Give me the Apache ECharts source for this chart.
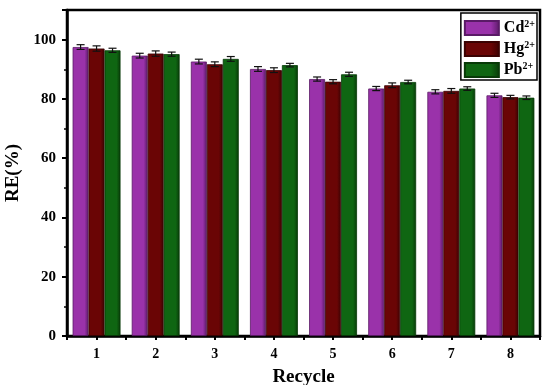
<!DOCTYPE html>
<html><head><meta charset="utf-8">
<script src="https://cdn.jsdelivr.net/npm/echarts@6/dist/echarts.min.js"></script>
<style>html,body{margin:0;padding:0;background:#fff}#c{width:550px;height:385px}</style>
</head><body><div id="c"></div>
<script>
var categories = ['1','2','3','4','5','6','7','8'];
var seriesNames = ['Cd', 'Hg', 'Pb'];
var cdValues = [97.5, 94.6, 92.6, 90.1, 86.7, 83.5, 82.4, 81.2];
var hgValues = [97.0, 95.3, 91.7, 89.7, 85.8, 84.6, 82.7, 80.6];
var pbValues = [96.4, 95.1, 93.5, 91.4, 88.3, 85.7, 83.5, 80.4];
var cdErrors = [0.8, 0.8, 0.8, 0.8, 0.7, 0.7, 0.7, 0.7];
var hgErrors = [0.9, 0.9, 0.8, 0.8, 0.7, 0.8, 0.8, 0.6];
var pbErrors = [0.7, 0.7, 0.8, 0.6, 0.7, 0.6, 0.6, 0.6];
var yTicks = [0, 20, 40, 60, 80, 100];

var colors = ['#9a32aa', '#6a0505', '#0f6612'];
var borders = ['#5a1a66', '#3a0202', '#083a08'];
var values = [cdValues, hgValues, pbValues];
var errors = [cdErrors, hgErrors, pbErrors];
var CAT_GAP = 0.19;
var FONT = 'Liberation Serif';

var chart = echarts.init(document.getElementById('c'));
var series = [];
seriesNames.forEach(function (nm, si) {
  series.push({
    name: nm, type: 'bar', data: values[si], barGap: '0%', barCategoryGap: (CAT_GAP * 100) + '%',
    itemStyle: {
      color: new echarts.graphic.LinearGradient(0, 0, 1, 0, [
        {offset: 0, color: colors[si]}, {offset: 0.75, color: colors[si]}, {offset: 1, color: borders[si]}]),
      borderColor: borders[si], borderWidth: 0.8
    },
    z: 2
  });
});
seriesNames.forEach(function (nm, si) {
  series.push({
    type: 'custom', name: nm + '_err', silent: true, z: 5,
    data: values[si].map(function (v, i) { return [i, v, errors[si][i]]; }),
    renderItem: function (params, api) {
      var cw = api.size([1, 0])[0];
      var bw = cw * (1 - CAT_GAP) / 3;
      var off = (si - 1) * bw;
      var c = api.coord([api.value(0), api.value(1)]);
      var x = c[0] + off;
      var hi = api.coord([api.value(0), api.value(1) + api.value(2)])[1];
      var lo = api.coord([api.value(0), api.value(1) - api.value(2)])[1];
      var hw = 4;
      var st = {stroke: '#111', lineWidth: 1.2};
      return {type: 'group', children: [
        {type: 'line', shape: {x1: x, y1: hi, x2: x, y2: lo}, style: st},
        {type: 'line', shape: {x1: x - hw, y1: hi, x2: x + hw, y2: hi}, style: st},
        {type: 'line', shape: {x1: x - hw, y1: lo, x2: x + hw, y2: lo}, style: st}
      ]};
    }
  });
});

var sup = {Cd: 'Cd', Hg: 'Hg', Pb: 'Pb'};
chart.setOption({
  animation: false,
  textStyle: {fontFamily: FONT},
  grid: {left: 67, right: 10, top: 10, bottom: 49, show: true, borderColor: '#000', borderWidth: 2.5,
    backgroundColor: 'transparent', containLabel: false, outerBoundsMode: 'none'},
  legend: {
    data: seriesNames, right: 13, top: 13, orient: 'vertical', icon: 'rect',
    itemWidth: 34, itemHeight: 14, itemGap: 4,
    borderColor: '#000', borderWidth: 1.5, padding: [6, 2, 2, 3], borderRadius: 0,
    formatter: function (n) { return '{b|' + sup[n] + '}{s|2+}'; },
    textStyle: {rich: {
      b: {fontFamily: FONT, fontWeight: 'bold', fontSize: 16, color: '#000'},
      s: {fontFamily: FONT, fontWeight: 'bold', fontSize: 10, color: '#000', verticalAlign: 'top', padding: [0, 0, 8, 0]}
    }}
  },
  xAxis: [{
    type: 'category', data: categories,
    axisLine: {lineStyle: {color: '#000', width: 2.5}},
    axisTick: {show: true, inside: false, length: 4, lineStyle: {color: '#000', width: 2}},
    axisLabel: {show: false},
    name: 'Recycle', nameLocation: 'middle', nameGap: 32,
    nameTextStyle: {fontFamily: FONT, fontWeight: 'bold', fontSize: 19, color: '#000'}
  }, {
    type: 'category', data: categories, position: 'bottom',
    axisLine: {show: false},
    axisTick: {show: true, alignWithLabel: true, length: 4, lineStyle: {color: '#000', width: 2}},
    axisLabel: {fontFamily: FONT, fontWeight: 'bold', fontSize: 14, color: '#000', margin: 11}
  }],
  yAxis: {
    type: 'value', min: 0, max: 110, interval: 20,
    axisLine: {show: true, lineStyle: {color: '#000', width: 2.5}},
    axisTick: {show: true, length: 5, lineStyle: {color: '#000', width: 2}},
    minorTick: {show: true, splitNumber: 2, length: 3, lineStyle: {color: '#000', width: 1.5}},
    splitLine: {show: false},
    axisLabel: {fontFamily: FONT, fontWeight: 'bold', fontSize: 15, color: '#000', margin: 11,
      formatter: function (v) { return yTicks.indexOf(v) >= 0 ? String(v) : ''; }},
    name: 'RE(%)', nameLocation: 'middle', nameGap: 34, nameRotate: 90,
    nameTextStyle: {fontFamily: FONT, fontWeight: 'bold', fontSize: 19, color: '#000'}
  },
  series: series
});
</script></body></html>
